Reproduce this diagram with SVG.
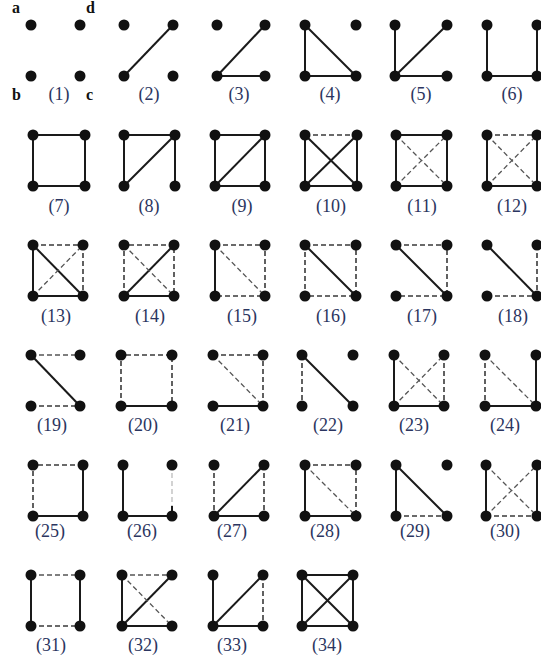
<svg xmlns="http://www.w3.org/2000/svg" width="541" height="663" viewBox="0 0 541 663">
<style>
.s{stroke:#1a1a1a;stroke-width:2;fill:none}
.d{stroke:#3a3a3a;stroke-width:1.6;stroke-dasharray:5 3;fill:none}
.t{stroke:#555;stroke-width:1.3;stroke-dasharray:5 3;fill:none}
.l{stroke:#c8c8c8;stroke-width:1.6;stroke-dasharray:5 3;fill:none}
.n{fill:#111}
.lab{font-family:"Liberation Serif",serif;font-size:18px;fill:#2b3560;text-anchor:middle}
.v{font-family:"Liberation Serif",serif;font-size:16px;font-weight:bold;fill:#111}
</style>
<rect width="541" height="663" fill="#fff"/>
<g id="connectors">
<!-- row 1 -->
<line class="s" x1="124" y1="76" x2="173" y2="25"/>
<line class="s" x1="217" y1="76" x2="265" y2="25"/><line class="s" x1="217" y1="76" x2="265" y2="76"/>
<line class="s" x1="305" y1="25" x2="305" y2="76"/><line class="s" x1="305" y1="25" x2="356" y2="76"/><line class="s" x1="305" y1="76" x2="356" y2="76"/>
<line class="s" x1="395" y1="25" x2="395" y2="76"/><line class="s" x1="395" y1="76" x2="447" y2="25"/><line class="s" x1="395" y1="76" x2="447" y2="76"/>
<line class="s" x1="487" y1="25" x2="487" y2="76"/><line class="s" x1="487" y1="76" x2="537" y2="76"/><line class="s" x1="537" y1="25" x2="537" y2="76"/>
<!-- row 2 -->
<path class="s" d="M33 135H85V186H33Z"/>
<path class="s" d="M33 186V135H85V186"/>
<line class="s" x1="124" y1="135" x2="175" y2="135"/><line class="s" x1="124" y1="135" x2="124" y2="186"/><line class="s" x1="124" y1="186" x2="175" y2="135"/><line class="s" x1="175" y1="135" x2="175" y2="186"/>
<path class="s" d="M215 135H265V186H215Z"/><line class="s" x1="215" y1="186" x2="265" y2="135"/>
<line class="d" x1="305" y1="135" x2="357" y2="135"/><path class="s" d="M305 135V186H357V135"/><line class="s" x1="305" y1="135" x2="357" y2="186"/><line class="s" x1="305" y1="186" x2="357" y2="135"/>
<path class="s" d="M396 135H447V186H396Z"/><line class="t" x1="396" y1="135" x2="447" y2="186"/><line class="t" x1="396" y1="186" x2="447" y2="135"/>
<line class="d" x1="487" y1="135" x2="537" y2="135"/><path class="s" d="M487 135V186H537V135"/><line class="t" x1="487" y1="135" x2="537" y2="186"/><line class="t" x1="487" y1="186" x2="537" y2="135"/>
<!-- row 3 -->
<line class="d" x1="33" y1="245" x2="83" y2="245"/><path class="s" d="M33 245V296H83"/><line class="s" x1="33" y1="245" x2="83" y2="296"/><line class="t" x1="33" y1="296" x2="83" y2="245"/><line class="d" x1="83" y1="245" x2="83" y2="296"/>
<path class="d" d="M124 296V245H174V296"/><line class="s" x1="124" y1="296" x2="174" y2="296"/><line class="s" x1="124" y1="296" x2="174" y2="245"/><line class="t" x1="124" y1="245" x2="174" y2="296"/>
<line class="s" x1="215" y1="245" x2="215" y2="296"/><path class="d" d="M215 245H265V296H215"/><line class="t" x1="215" y1="245" x2="265" y2="296"/>
<path class="d" d="M305 245H356V296H305Z"/><line class="s" x1="305" y1="245" x2="356" y2="296"/>
<path class="d" d="M396 245H447V296H396"/><line class="s" x1="396" y1="245" x2="447" y2="296"/>
<path class="d" d="M537 245V296H487"/><line class="s" x1="487" y1="245" x2="537" y2="296"/>
<!-- row 4 -->
<line class="t" x1="31" y1="355" x2="80" y2="355"/><line class="s" x1="31" y1="355" x2="80" y2="406"/><line class="d" x1="31" y1="406" x2="80" y2="406"/>
<path class="d" d="M121 406V355H172V406"/><line class="s" x1="121" y1="406" x2="172" y2="406"/>
<path class="d" d="M213 355H263V406"/><line class="t" x1="213" y1="355" x2="263" y2="406"/><line class="s" x1="213" y1="406" x2="263" y2="406"/>
<line class="d" x1="302" y1="355" x2="302" y2="406"/><line class="s" x1="302" y1="355" x2="353" y2="406"/>
<path class="s" d="M394 355V406H444"/><line class="t" x1="394" y1="355" x2="444" y2="406"/><line class="t" x1="394" y1="406" x2="444" y2="355"/><line class="d" x1="444" y1="355" x2="444" y2="406"/>
<line class="d" x1="485" y1="355" x2="485" y2="406"/><line class="t" x1="485" y1="355" x2="536" y2="406"/><path class="s" d="M485 406H536V355"/>
<!-- row 5 -->
<path class="d" d="M33 516V465H83"/><path class="s" d="M83 465V516H33"/>
<path class="s" d="M123 465V516H172"/><line class="l" x1="172" y1="465" x2="172" y2="506"/><line class="s" x1="172" y1="506" x2="172" y2="516"/>
<line class="d" x1="214" y1="465" x2="214" y2="516"/><line class="s" x1="214" y1="516" x2="264" y2="465"/><line class="d" x1="264" y1="465" x2="264" y2="516"/><line class="s" x1="214" y1="516" x2="264" y2="516"/>
<path class="d" d="M305 465H356V516"/><path class="s" d="M305 465V516H356"/><line class="t" x1="305" y1="465" x2="356" y2="516"/>
<line class="s" x1="396" y1="465" x2="396" y2="516"/><line class="s" x1="396" y1="465" x2="447" y2="516"/><line class="d" x1="396" y1="516" x2="447" y2="516"/>
<line class="s" x1="486" y1="465" x2="486" y2="516"/><line class="t" x1="486" y1="465" x2="537" y2="516"/><line class="t" x1="486" y1="516" x2="537" y2="465"/><line class="d" x1="486" y1="516" x2="537" y2="516"/><line class="s" x1="537" y1="465" x2="537" y2="516"/>
<!-- row 6 -->
<line class="t" x1="31" y1="575" x2="80" y2="575"/><line class="s" x1="31" y1="575" x2="31" y2="626"/><line class="s" x1="80" y1="575" x2="80" y2="626"/><line class="d" x1="31" y1="626" x2="80" y2="626"/>
<line class="t" x1="122" y1="575" x2="172" y2="575"/><path class="s" d="M122 575V626H172"/><line class="s" x1="122" y1="626" x2="172" y2="575"/><line class="t" x1="122" y1="575" x2="172" y2="626"/>
<path class="s" d="M213 575V626H263"/><line class="s" x1="213" y1="626" x2="263" y2="575"/><line class="d" x1="263" y1="575" x2="263" y2="626"/>
<path class="s" d="M302 575H353V626H302Z"/><line class="s" x1="302" y1="575" x2="353" y2="626"/><line class="s" x1="302" y1="626" x2="353" y2="575"/>
</g>
<g id="graph-1"><circle class="n" cx="31" cy="25" r="5.5"/><circle class="n" cx="80" cy="25" r="5.5"/><circle class="n" cx="31" cy="76" r="5.5"/><circle class="n" cx="80" cy="76" r="5.5"/><text class="lab" x="59" y="100">(1)</text></g>
<g id="vertex-labels"><text class="v" x="12" y="13">a</text><text class="v" x="86" y="13">d</text><text class="v" x="12" y="100">b</text><text class="v" x="86" y="100">c</text></g>
<g id="graph-2"><circle class="n" cx="124" cy="25" r="5.5"/><circle class="n" cx="173" cy="25" r="5.5"/><circle class="n" cx="124" cy="76" r="5.5"/><circle class="n" cx="173" cy="76" r="5.5"/><text class="lab" x="149" y="100">(2)</text></g>
<g id="graph-3"><circle class="n" cx="217" cy="25" r="5.5"/><circle class="n" cx="265" cy="25" r="5.5"/><circle class="n" cx="217" cy="76" r="5.5"/><circle class="n" cx="265" cy="76" r="5.5"/><text class="lab" x="239" y="100">(3)</text></g>
<g id="graph-4"><circle class="n" cx="305" cy="25" r="5.5"/><circle class="n" cx="356" cy="25" r="5.5"/><circle class="n" cx="305" cy="76" r="5.5"/><circle class="n" cx="356" cy="76" r="5.5"/><text class="lab" x="330" y="100">(4)</text></g>
<g id="graph-5"><circle class="n" cx="395" cy="25" r="5.5"/><circle class="n" cx="447" cy="25" r="5.5"/><circle class="n" cx="395" cy="76" r="5.5"/><circle class="n" cx="447" cy="76" r="5.5"/><text class="lab" x="421" y="100">(5)</text></g>
<g id="graph-6"><circle class="n" cx="487" cy="25" r="5.5"/><circle class="n" cx="537" cy="25" r="5.5"/><circle class="n" cx="487" cy="76" r="5.5"/><circle class="n" cx="537" cy="76" r="5.5"/><text class="lab" x="512" y="100">(6)</text></g>
<g id="graph-7"><circle class="n" cx="33" cy="135" r="5.5"/><circle class="n" cx="85" cy="135" r="5.5"/><circle class="n" cx="33" cy="186" r="5.5"/><circle class="n" cx="85" cy="186" r="5.5"/><text class="lab" x="59" y="212">(7)</text></g>
<g id="graph-8"><circle class="n" cx="124" cy="135" r="5.5"/><circle class="n" cx="175" cy="135" r="5.5"/><circle class="n" cx="124" cy="186" r="5.5"/><circle class="n" cx="175" cy="186" r="5.5"/><text class="lab" x="149" y="212">(8)</text></g>
<g id="graph-9"><circle class="n" cx="215" cy="135" r="5.5"/><circle class="n" cx="265" cy="135" r="5.5"/><circle class="n" cx="215" cy="186" r="5.5"/><circle class="n" cx="265" cy="186" r="5.5"/><text class="lab" x="242" y="212">(9)</text></g>
<g id="graph-10"><circle class="n" cx="305" cy="135" r="5.5"/><circle class="n" cx="357" cy="135" r="5.5"/><circle class="n" cx="305" cy="186" r="5.5"/><circle class="n" cx="357" cy="186" r="5.5"/><text class="lab" x="331" y="212">(10)</text></g>
<g id="graph-11"><circle class="n" cx="396" cy="135" r="5.5"/><circle class="n" cx="447" cy="135" r="5.5"/><circle class="n" cx="396" cy="186" r="5.5"/><circle class="n" cx="447" cy="186" r="5.5"/><text class="lab" x="422" y="212">(11)</text></g>
<g id="graph-12"><circle class="n" cx="487" cy="135" r="5.5"/><circle class="n" cx="537" cy="135" r="5.5"/><circle class="n" cx="487" cy="186" r="5.5"/><circle class="n" cx="537" cy="186" r="5.5"/><text class="lab" x="512" y="212">(12)</text></g>
<g id="graph-13"><circle class="n" cx="33" cy="245" r="5.5"/><circle class="n" cx="83" cy="245" r="5.5"/><circle class="n" cx="33" cy="296" r="5.5"/><circle class="n" cx="83" cy="296" r="5.5"/><text class="lab" x="56" y="322">(13)</text></g>
<g id="graph-14"><circle class="n" cx="124" cy="245" r="5.5"/><circle class="n" cx="174" cy="245" r="5.5"/><circle class="n" cx="124" cy="296" r="5.5"/><circle class="n" cx="174" cy="296" r="5.5"/><text class="lab" x="150" y="322">(14)</text></g>
<g id="graph-15"><circle class="n" cx="215" cy="245" r="5.5"/><circle class="n" cx="265" cy="245" r="5.5"/><circle class="n" cx="215" cy="296" r="5.5"/><circle class="n" cx="265" cy="296" r="5.5"/><text class="lab" x="242" y="322">(15)</text></g>
<g id="graph-16"><circle class="n" cx="305" cy="245" r="5.5"/><circle class="n" cx="356" cy="245" r="5.5"/><circle class="n" cx="305" cy="296" r="5.5"/><circle class="n" cx="356" cy="296" r="5.5"/><text class="lab" x="331" y="322">(16)</text></g>
<g id="graph-17"><circle class="n" cx="396" cy="245" r="5.5"/><circle class="n" cx="447" cy="245" r="5.5"/><circle class="n" cx="396" cy="296" r="5.5"/><circle class="n" cx="447" cy="296" r="5.5"/><text class="lab" x="422" y="322">(17)</text></g>
<g id="graph-18"><circle class="n" cx="487" cy="245" r="5.5"/><circle class="n" cx="537" cy="245" r="5.5"/><circle class="n" cx="487" cy="296" r="5.5"/><circle class="n" cx="537" cy="296" r="5.5"/><text class="lab" x="513" y="322">(18)</text></g>
<g id="graph-19"><circle class="n" cx="31" cy="355" r="5.5"/><circle class="n" cx="80" cy="355" r="5.5"/><circle class="n" cx="31" cy="406" r="5.5"/><circle class="n" cx="80" cy="406" r="5.5"/><text class="lab" x="52" y="431">(19)</text></g>
<g id="graph-20"><circle class="n" cx="121" cy="355" r="5.5"/><circle class="n" cx="172" cy="355" r="5.5"/><circle class="n" cx="121" cy="406" r="5.5"/><circle class="n" cx="172" cy="406" r="5.5"/><text class="lab" x="143" y="431">(20)</text></g>
<g id="graph-21"><circle class="n" cx="213" cy="355" r="5.5"/><circle class="n" cx="263" cy="355" r="5.5"/><circle class="n" cx="213" cy="406" r="5.5"/><circle class="n" cx="263" cy="406" r="5.5"/><text class="lab" x="235" y="431">(21)</text></g>
<g id="graph-22"><circle class="n" cx="302" cy="355" r="5.5"/><circle class="n" cx="353" cy="355" r="5.5"/><circle class="n" cx="302" cy="406" r="5.5"/><circle class="n" cx="353" cy="406" r="5.5"/><text class="lab" x="328" y="431">(22)</text></g>
<g id="graph-23"><circle class="n" cx="394" cy="355" r="5.5"/><circle class="n" cx="444" cy="355" r="5.5"/><circle class="n" cx="394" cy="406" r="5.5"/><circle class="n" cx="444" cy="406" r="5.5"/><text class="lab" x="414" y="431">(23)</text></g>
<g id="graph-24"><circle class="n" cx="485" cy="355" r="5.5"/><circle class="n" cx="536" cy="355" r="5.5"/><circle class="n" cx="485" cy="406" r="5.5"/><circle class="n" cx="536" cy="406" r="5.5"/><text class="lab" x="505" y="431">(24)</text></g>
<g id="graph-25"><circle class="n" cx="33" cy="465" r="5.5"/><circle class="n" cx="83" cy="465" r="5.5"/><circle class="n" cx="33" cy="516" r="5.5"/><circle class="n" cx="83" cy="516" r="5.5"/><text class="lab" x="50" y="537">(25)</text></g>
<g id="graph-26"><circle class="n" cx="123" cy="465" r="5.5"/><circle class="n" cx="172" cy="465" r="5.5"/><circle class="n" cx="123" cy="516" r="5.5"/><circle class="n" cx="172" cy="516" r="5.5"/><text class="lab" x="142" y="537">(26)</text></g>
<g id="graph-27"><circle class="n" cx="214" cy="465" r="5.5"/><circle class="n" cx="264" cy="465" r="5.5"/><circle class="n" cx="214" cy="516" r="5.5"/><circle class="n" cx="264" cy="516" r="5.5"/><text class="lab" x="232" y="537">(27)</text></g>
<g id="graph-28"><circle class="n" cx="305" cy="465" r="5.5"/><circle class="n" cx="356" cy="465" r="5.5"/><circle class="n" cx="305" cy="516" r="5.5"/><circle class="n" cx="356" cy="516" r="5.5"/><text class="lab" x="325" y="537">(28)</text></g>
<g id="graph-29"><circle class="n" cx="396" cy="465" r="5.5"/><circle class="n" cx="447" cy="465" r="5.5"/><circle class="n" cx="396" cy="516" r="5.5"/><circle class="n" cx="447" cy="516" r="5.5"/><text class="lab" x="415" y="537">(29)</text></g>
<g id="graph-30"><circle class="n" cx="486" cy="465" r="5.5"/><circle class="n" cx="537" cy="465" r="5.5"/><circle class="n" cx="486" cy="516" r="5.5"/><circle class="n" cx="537" cy="516" r="5.5"/><text class="lab" x="505" y="537">(30)</text></g>
<g id="graph-31"><circle class="n" cx="31" cy="575" r="5.5"/><circle class="n" cx="80" cy="575" r="5.5"/><circle class="n" cx="31" cy="626" r="5.5"/><circle class="n" cx="80" cy="626" r="5.5"/><text class="lab" x="51" y="651">(31)</text></g>
<g id="graph-32"><circle class="n" cx="122" cy="575" r="5.5"/><circle class="n" cx="172" cy="575" r="5.5"/><circle class="n" cx="122" cy="626" r="5.5"/><circle class="n" cx="172" cy="626" r="5.5"/><text class="lab" x="143" y="651">(32)</text></g>
<g id="graph-33"><circle class="n" cx="213" cy="575" r="5.5"/><circle class="n" cx="263" cy="575" r="5.5"/><circle class="n" cx="213" cy="626" r="5.5"/><circle class="n" cx="263" cy="626" r="5.5"/><text class="lab" x="232" y="651">(33)</text></g>
<g id="graph-34"><circle class="n" cx="302" cy="575" r="5.5"/><circle class="n" cx="353" cy="575" r="5.5"/><circle class="n" cx="302" cy="626" r="5.5"/><circle class="n" cx="353" cy="626" r="5.5"/><text class="lab" x="327" y="651">(34)</text></g>
</svg>
